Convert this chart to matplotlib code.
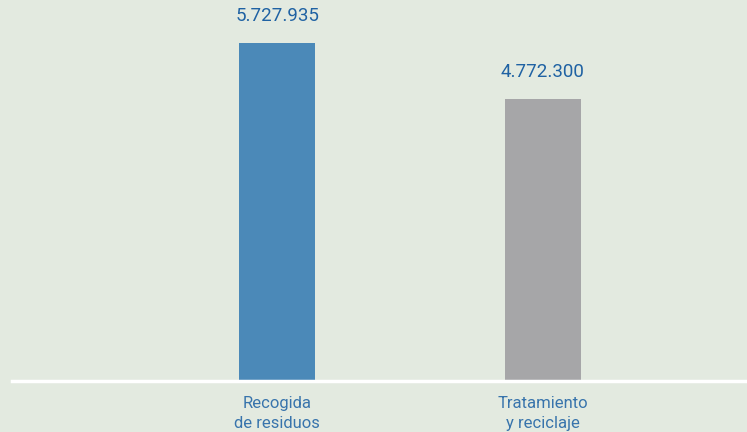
import matplotlib.pyplot as plt

categories = ['Recogida\nde residuos', 'Tratamiento\ny reciclaje']
values = [5727935, 4772300]
value_labels = ['5.727.935', '4.772.300']
colors = ['#4b89b8', '#a6a6a8']

bg = '#e3eae0'

fig = plt.figure(figsize=(7.47, 4.32), dpi=100)
fig.patch.set_facecolor(bg)

# axes from x=12px to right edge, baseline at y=381px
ax = fig.add_axes([12 / 747, 51 / 432, 735 / 747, 381 / 432])
ax.set_facecolor(bg)

x = [0, 1]
ax.bar(x, values, width=0.286, color=colors, zorder=2)
ax.set_xlim(-0.998, 1.770)
ax.set_ylim(0, values[0] * 381 / 338)

for s in ax.spines.values():
    s.set_visible(False)
ax.axhline(0, color='white', lw=2.5, zorder=3, clip_on=False)
ax.set_xticks([])
ax.set_yticks([])

for xi, v, lab in zip(x, values, value_labels):
    ax.annotate(lab, (xi, v), xytext=(0, 13), textcoords='offset points',
                ha='center', va='bottom', fontsize=13.5, color='#1f62a3',
                family='Roboto')

for xi, cat in zip(x, categories):
    ax.annotate(cat, (xi, 0), xytext=(0, -11), textcoords='offset points',
                ha='center', va='top', fontsize=12, color='#3874ac',
                family='Roboto', fontweight='normal', linespacing=1.38,
                annotation_clip=False)

fig.savefig('out.png', dpi=100, facecolor=bg)
